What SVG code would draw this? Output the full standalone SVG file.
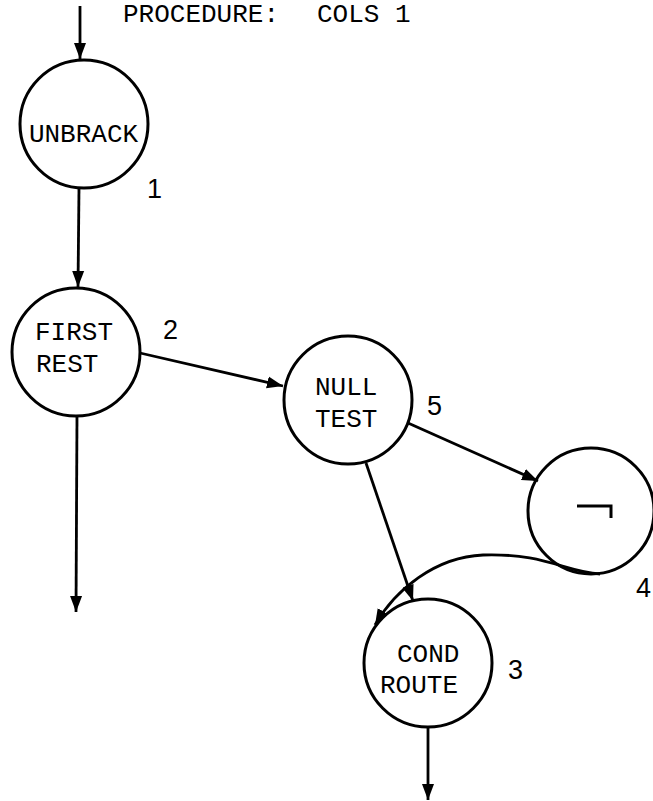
<svg xmlns="http://www.w3.org/2000/svg" width="653" height="801" viewBox="0 0 653 801">
<style>
.node circle{fill:none;stroke:#000;stroke-width:3}
.lbl{font-family:"Liberation Mono","Courier New",monospace;font-size:26px;fill:#000}
.num{font-family:"Liberation Sans",Arial,sans-serif;font-size:27px;fill:#000}
.edge{fill:none;stroke:#000;stroke-width:2.8}
</style>
<defs>
<marker id="arr" markerUnits="userSpaceOnUse" markerWidth="18" markerHeight="14" refX="16" refY="7" orient="auto">
<path d="M0,1 L16,7 L0,13 Z" fill="#000"/>
</marker>
</defs>
<g id="title">
<text class="lbl" x="123" y="22">PROCEDURE:</text>
<text class="lbl" x="317" y="22">COLS 1</text>
</g>
<g id="connectors">
<line class="edge" x1="80" y1="6" x2="80" y2="59" marker-end="url(#arr)"/>
<line class="edge" x1="79" y1="188" x2="78" y2="287" marker-end="url(#arr)"/>
<line class="edge" x1="140" y1="353" x2="283" y2="386" marker-end="url(#arr)"/>
<line class="edge" x1="77" y1="416" x2="76" y2="612" marker-end="url(#arr)"/>
<line class="edge" x1="408" y1="423" x2="538" y2="481" marker-end="url(#arr)"/>
<line class="edge" x1="366" y1="463" x2="413" y2="601" marker-end="url(#arr)"/>
<path class="edge" d="M600 574 C565 572 545 553 483 555 C435 557 395 590 375 625" marker-end="url(#arr)"/>
<line class="edge" x1="428" y1="727" x2="428" y2="800" marker-end="url(#arr)"/>
</g>
<g id="n1" class="node">
<circle cx="84" cy="124" r="64"/>
<text class="lbl" x="83.5" y="142" text-anchor="middle">UNBRACK</text>
<text class="num" x="147" y="198">1</text>
</g>
<g id="n2" class="node">
<circle cx="76" cy="352" r="64"/>
<text class="lbl" x="35" y="340">FIRST</text>
<text class="lbl" x="36" y="372">REST</text>
<text class="num" x="163" y="339">2</text>
</g>
<g id="n5" class="node">
<circle cx="348" cy="400" r="64"/>
<text class="lbl" x="315" y="395">NULL</text>
<text class="lbl" x="315" y="427">TEST</text>
<text class="num" x="427" y="415">5</text>
</g>
<g id="n4" class="node">
<circle cx="591" cy="511" r="63"/>
<path d="M577 506 H611 V518" fill="none" stroke="#000" stroke-width="3"/>
<text class="num" x="636" y="597">4</text>
</g>
<g id="n3" class="node">
<circle cx="428" cy="663" r="64"/>
<text class="lbl" x="397" y="662">COND</text>
<text class="lbl" x="380" y="693">ROUTE</text>
<text class="num" x="508" y="679">3</text>
</g>
</svg>
